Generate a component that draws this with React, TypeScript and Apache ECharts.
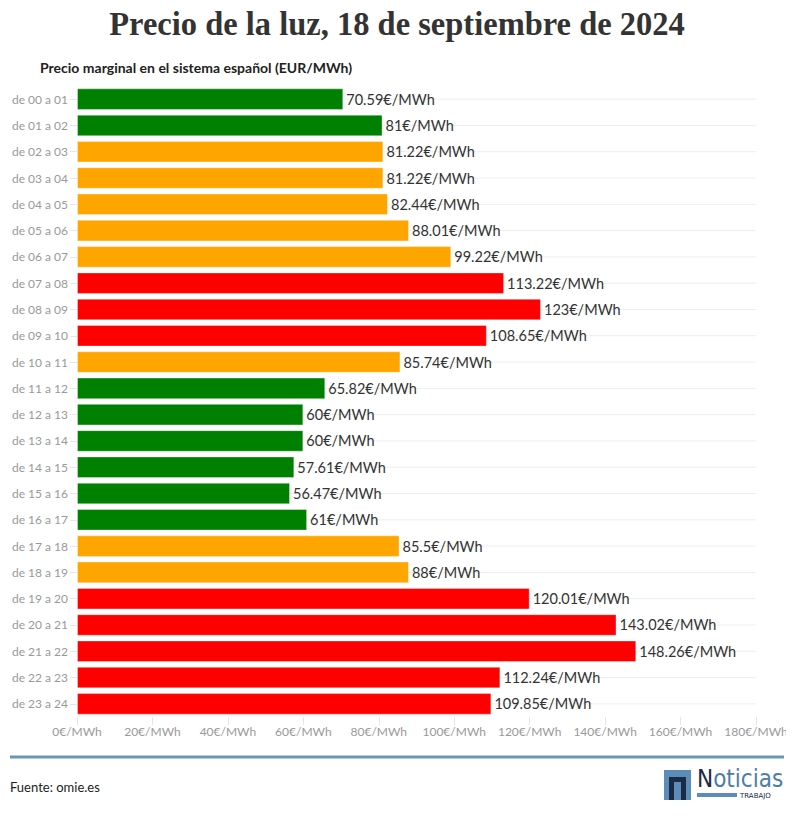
import React, { useEffect, useRef } from "react";
import * as echarts from "echarts";

const hours = [
  "de 00 a 01", "de 01 a 02", "de 02 a 03", "de 03 a 04", "de 04 a 05", "de 05 a 06",
  "de 06 a 07", "de 07 a 08", "de 08 a 09", "de 09 a 10", "de 10 a 11", "de 11 a 12",
  "de 12 a 13", "de 13 a 14", "de 14 a 15", "de 15 a 16", "de 16 a 17", "de 17 a 18",
  "de 18 a 19", "de 19 a 20", "de 20 a 21", "de 21 a 22", "de 22 a 23", "de 23 a 24",
];

const prices = [
  70.59, 81, 81.22, 81.22, 82.44, 88.01, 99.22, 113.22, 123, 108.65, 85.74, 65.82,
  60, 60, 57.61, 56.47, 61, 85.5, 88, 120.01, 143.02, 148.26, 112.24, 109.85,
];

const levels = [
  "low", "low", "mid", "mid", "mid", "mid", "mid", "high", "high", "high", "mid", "low",
  "low", "low", "low", "low", "low", "mid", "mid", "high", "high", "high", "high", "high",
];

const levelColors: Record<string, string> = {
  low: "#008000",
  mid: "#FFA500",
  high: "#FF0000",
};

const xTicks = [0, 20, 40, 60, 80, 100, 120, 140, 160, 180];

const GRID_LEFT = 77;
const GRID_RIGHT = 38;
const GRID_TOP = 86;
const GRID_BOTTOM = 100;

export default function App() {
  const ref = useRef<HTMLDivElement>(null);

  useEffect(() => {
    if (!ref.current) return;
    const chart = echarts.init(ref.current, undefined, { renderer: "svg" });
    const W = 794;

    const option: any = {
      animation: false,
      backgroundColor: "#ffffff",
      grid: {
        left: GRID_LEFT,
        right: GRID_RIGHT,
        top: GRID_TOP,
        bottom: GRID_BOTTOM,
        containLabel: false,
      },
      xAxis: {
        type: "value",
        min: 0,
        max: 180,
        interval: 20,
        axisLine: { show: false },
        axisTick: {
          show: true,
          length: 8,
          lineStyle: { color: "#e6e6e6" },
        },
        splitLine: { show: false },
        axisLabel: {
          margin: 8,
          fontFamily: "Lato, sans-serif",
          fontSize: 12,
          color: "#999999",
          formatter: (v: number) => (xTicks.includes(v) ? `${v}€/MWh` : ""),
        },
      },
      yAxis: {
        type: "category",
        inverse: true,
        data: hours,
        axisLine: { show: false },
        axisTick: {
          show: true,
          alignWithLabel: true,
          length: 7,
          lineStyle: { color: "#e6e6e6" },
        },
        axisLabel: {
          margin: 9,
          fontFamily: "Lato, sans-serif",
          fontSize: 12,
          color: "#999999",
        },
      },
      series: [
        {
          type: "custom",
          z: 0,
          silent: true,
          data: hours.map((h, i) => [0, i]),
          renderItem: (params: any, api: any) => {
            const p1 = api.coord([0, api.value(1)]);
            const p2 = api.coord([180, api.value(1)]);
            return {
              type: "line",
              shape: { x1: p1[0], y1: p1[1], x2: p2[0], y2: p2[1] },
              style: { stroke: "#eeeeee", lineWidth: 1 },
            };
          },
        },
        {
          type: "bar",
          z: 2,
          barCategoryGap: "18%",
          data: prices.map((v, i) => ({
            value: v,
            itemStyle: {
              color: levelColors[levels[i]],
              borderColor: "rgba(255,255,255,0.35)",
              borderWidth: 1,
            },
          })),
          label: {
            show: true,
            position: "right",
            distance: 3,
            fontFamily: "Lato, sans-serif",
            fontSize: 14.5,
            color: "#333333",
            formatter: (p: any) => `${p.value}€/MWh`,
          },
        },
      ],
      graphic: [
        {
          type: "text",
          x: W / 2,
          y: 7,
          scaleX: 0.985,
          style: {
            text: "Precio de la luz, 18 de septiembre de 2024",
            textAlign: "center",
            fontFamily: "'Liberation Serif', serif",
            fontWeight: "bold",
            fontSize: 33,
            fill: "#333333",
          },
        },
        {
          type: "text",
          left: 40,
          top: 60,
          style: {
            text: "Precio marginal en el sistema español (EUR/MWh)",
            fontFamily: "Lato, sans-serif",
            fontWeight: "bold",
            fontSize: 14,
            fill: "#222222",
          },
        },
        {
          type: "line",
          shape: { x1: 10, y1: 757, x2: W - 10, y2: 757 },
          style: { stroke: "#6a97b5", lineWidth: 3 },
        },
        {
          type: "text",
          left: 10,
          top: 780,
          style: {
            text: "Fuente: omie.es",
            fontFamily: "Lato, sans-serif",
            fontSize: 13,
            fill: "#222222",
          },
        },
        {
          type: "rect",
          shape: { x: 664, y: 770, width: 27, height: 30 },
          style: { fill: "#5b8db8" },
        },
        {
          type: "polygon",
          shape: {
            points: [
              [669, 777], [686, 777], [686, 800], [681, 800],
              [681, 782], [674, 782], [674, 800], [669, 800],
            ],
          },
          style: { fill: "#1b2a45" },
        },
        {
          type: "text",
          x: 697,
          y: 768,
          style: {
            text: "{n|N}{r|oticias}",
            rich: {
              n: {
                fontFamily: "'DejaVu Sans Condensed', 'DejaVu Sans', sans-serif",
                fontSize: 24,
                lineHeight: 22,
                fill: "#1b2a45",
              },
              r: {
                fontFamily: "'DejaVu Sans Condensed', 'DejaVu Sans', sans-serif",
                fontSize: 24,
                lineHeight: 22,
                fill: "#4d7ea8",
              },
            },
          },
        },
        {
          type: "rect",
          shape: { x: 697, y: 793, width: 40, height: 4 },
          style: { fill: "#5b8db8" },
        },
        {
          type: "text",
          x: 740,
          y: 792,
          style: {
            text: "TRABAJO",
            fontFamily: "'DejaVu Sans', sans-serif",
            fontSize: 7,
            lineHeight: 8,
            fill: "#1b2a45",
          },
        },
      ],
    };

    chart.setOption(option);
    return () => chart.dispose();
  }, []);

  return <div ref={ref} style={{ width: 794, height: 817, margin: -8 }} />;
}
